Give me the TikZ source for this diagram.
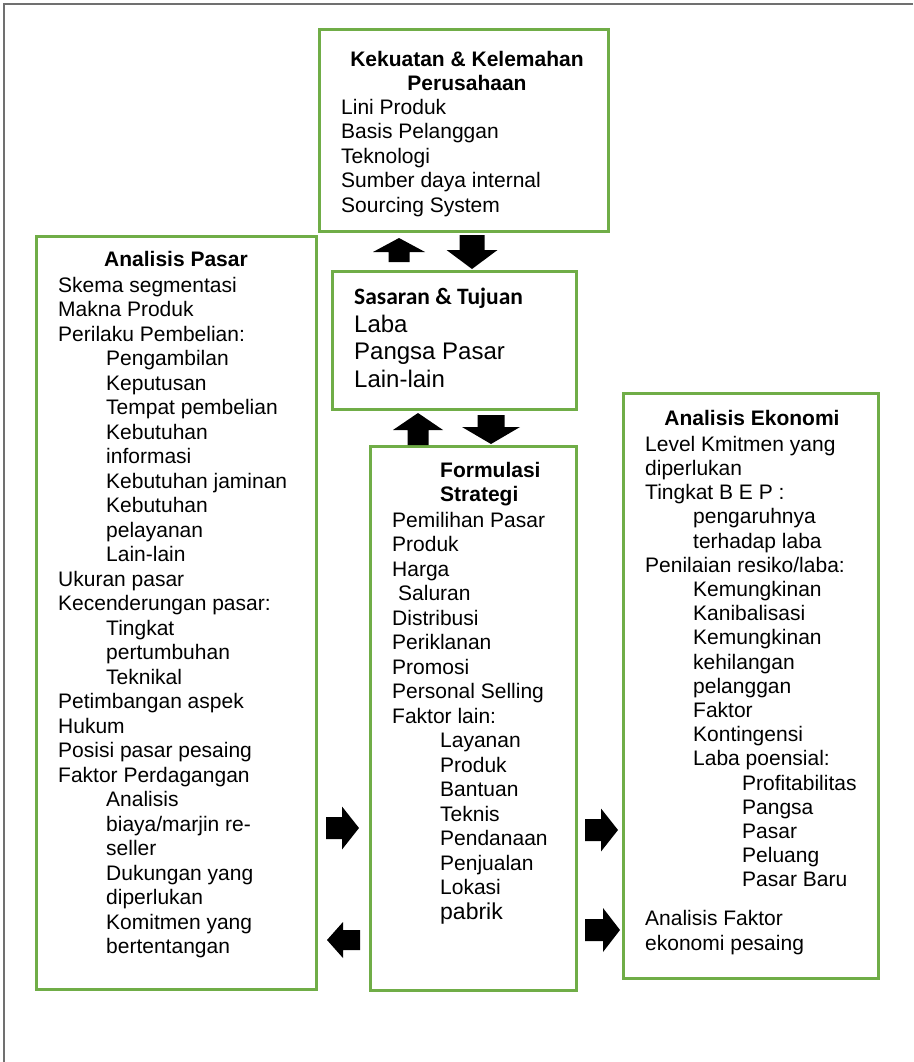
\documentclass[tikz,border=0pt]{standalone}
\usepackage{fontspec}
\setmainfont{Liberation Sans}
\newfontfamily\calibri{Carlito}
\usetikzlibrary{fit}
\definecolor{boxgreen}{HTML}{70AD47}
\definecolor{framegray}{HTML}{707070}
% indentation steps for sub-items
\newcommand\indA{\hspace*{48pt}}
\newcommand\indB{\hspace*{97pt}}
% invisible strut fixing the top of a text block 20pt above its first baseline
\newcommand\topline{\rule{0pt}{20pt}}
% block arrow: tail centre (#1,#2), direction #3, length #4,
% shaft half-width #5, head half-width #6, head length #7
\newcommand\fatarrow[7]{%
  \fill[blockarrow, shift={(#1,#2)}, rotate=#3]
    (0,-#5) -- (#4-#7,-#5) -- (#4-#7,-#6) -- (#4,0) -- (#4-#7,#6)
    -- (#4-#7,#5) -- (0,#5) -- cycle;}
\begin{document}
\begin{tikzpicture}[x=1pt,y=-1pt,
  box/.style={draw=boxgreen, line width=3pt, inner sep=0pt},
  body/.style={inner sep=0pt, align=left, anchor=north west,
    font=\fontsize{21}{24.5}\selectfont},
  head/.style={inner sep=0pt, align=center, anchor=north,
    font=\bfseries\fontsize{21}{24.5}\selectfont},
  headleft/.style={head, align=left, anchor=north west},
  blockarrow/.style={fill=black},
  frame/.style={draw=framegray, line width=1.5pt}]
\useasboundingbox (0,0) rectangle (913,1062);

% page frame (top and left edges)
\draw[frame] (4,1062) -- (4,4) -- (913,4);

% boxes
\node[box, fit={(319,30) (608,231)}] (kk) {};
\node[box, fit={(36,236) (316,989)}] (pasar) {};
\node[box, fit={(332,271) (576,409)}] (sasaran) {};
\node[box, fit={(370,446) (576,990)}] (formulasi) {};
\node[box, fit={(623,393) (878,978)}] (ekonomi) {};

% Kekuatan & Kelemahan Perusahaan
\node[head] (kk-title) at (467,66-20) {\topline Kekuatan \& Kelemahan\\Perusahaan};
\node[body] (kk-list) at (341,114-20) {\topline Lini Produk\\Basis Pelanggan\\Teknologi\\
  Sumber daya internal\\Sourcing System};

% Analisis Pasar
\node[head] (pasar-title) at (176,266-20) {\topline Analisis Pasar};
\node[body] (pasar-list) at (58,292-20) {\topline Skema segmentasi\\Makna Produk\\
  Perilaku Pembelian:\\
  \indA Pengambilan\\\indA Keputusan\\\indA Tempat pembelian\\
  \indA Kebutuhan\\\indA informasi\\\indA Kebutuhan jaminan\\
  \indA Kebutuhan\\\indA pelayanan\\\indA Lain-lain\\
  Ukuran pasar\\Kecenderungan pasar:\\
  \indA Tingkat\\\indA pertumbuhan\\\indA Teknikal\\
  Petimbangan aspek\\Hukum\\Posisi pasar pesaing\\Faktor Perdagangan\\
  \indA Analisis\\\indA biaya/marjin re-\\\indA seller\\
  \indA Dukungan yang\\\indA diperlukan\\
  \indA Komitmen yang\\\indA bertentangan};

% Sasaran & Tujuan
\node[headleft, font=\calibri\bfseries\fontsize{23.5}{27}\selectfont]
  (sasaran-title) at (354,304-20) {\topline Sasaran \& Tujuan};
\node[body, font=\fontsize{24}{27.5}\selectfont] (sasaran-list) at (354,332-20)
  {\topline Laba\\Pangsa Pasar\\Lain-lain};

% Formulasi Strategi
\node[headleft] (formulasi-title) at (440,477-20) {\topline Formulasi\\Strategi};
\node[body] (formulasi-list) at (392,527-20) {\topline Pemilihan Pasar\\Produk\\Harga\\
  \hspace*{6pt}Saluran\\Distribusi\\Periklanan\\Promosi\\Personal Selling\\
  Faktor lain:\\
  \indA Layanan\\\indA Produk\\\indA Bantuan\\\indA Teknis\\
  \indA Pendanaan\\\indA Penjualan\\\indA Lokasi\\
  \indA{\fontsize{23}{27}\selectfont pabrik}};

% Analisis Ekonomi
\node[head] (ekonomi-title) at (752,425-20) {\topline Analisis Ekonomi};
\node[body, font=\fontsize{21}{24.2}\selectfont] (ekonomi-list) at (645,451-20)
  {\topline Level Kmitmen yang\\diperlukan\\
  Tingkat B E P :\\
  \indA pengaruhnya\\\indA terhadap laba\\
  Penilaian resiko/laba:\\
  \indA Kemungkinan\\\indA Kanibalisasi\\\indA Kemungkinan\\
  \indA kehilangan\\\indA pelanggan\\\indA Faktor\\\indA Kontingensi\\
  \indA Laba poensial:\\
  \indB Profitabilitas\\\indB Pangsa\\\indB Pasar\\\indB Peluang\\
  \indB Pasar Baru\\[14.8pt]
  Analisis Faktor\\ekonomi pesaing};

% block arrows between the boxes
\fatarrow{399}{262}{90}{24}{10.5}{26}{14}
\fatarrow{472}{235}{-90}{34}{12.5}{25.5}{19}
\fatarrow{418}{445}{90}{32}{10.5}{25}{17}
\fatarrow{491}{415}{-90}{29}{13.5}{29}{17}
\fatarrow{326}{828}{0}{33}{11}{21.5}{17}
\fatarrow{585}{830}{0}{33}{11}{21.5}{17}
\fatarrow{585}{930}{0}{35}{11}{22}{17}
\fatarrow{360}{940}{180}{33}{10}{18}{16}
\end{tikzpicture}
\end{document}
